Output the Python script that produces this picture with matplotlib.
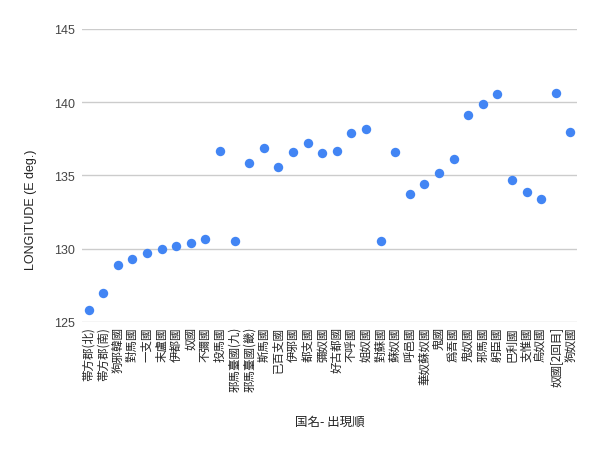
import matplotlib
matplotlib.use("Agg")
import matplotlib.pyplot as plt

# 国名 (出現順) と経度
countries = ["帯方郡(北)", "帯方郡(南)", "狗邪韓國", "對馬國", "一支國", "末盧國",
             "伊都國", "奴國", "不彌國", "投馬國", "邪馬臺國(九)", "邪馬臺國(畿)",
             "斯馬國", "已百支國", "伊邪國", "都支國", "彌奴國", "好古都國",
             "不呼國", "姐奴國", "對蘇國", "蘇奴國", "呼邑國", "華奴蘇奴國",
             "鬼國", "爲吾國", "鬼奴國", "邪馬國", "躬臣國", "巴利國",
             "支惟國", "烏奴國", "奴國[2回目]", "狗奴國"]
longitude = [125.84, 126.96, 128.9, 129.3, 129.7, 129.95,
             130.2, 130.4, 130.65, 136.7, 130.55, 135.85,
             136.9, 135.6, 136.6, 137.2, 136.55, 136.7,
             137.9, 138.2, 130.5, 136.57, 133.77, 134.45,
             135.16, 136.14, 139.1, 139.9, 140.57, 134.7,
             133.9, 133.4, 140.6, 137.95]
yticks = [125, 130, 135, 140, 145]

plt.rcParams['font.family'] = ['Liberation Sans', 'Noto Sans CJK JP', 'DejaVu Sans']

fig = plt.figure(figsize=(6.0, 4.52), dpi=100)
ax = fig.add_axes([82/600, 1-323/452, 495/600, 293/452])

xs = list(range(len(countries)))
ax.scatter(xs, longitude, s=46, color="#4285F4", zorder=3, linewidths=0)

ax.set_ylim(125, 145)
ax.set_xlim(-0.46, len(countries) - 1 + 0.46)
ax.set_yticks(yticks)
ax.set_yticklabels([str(v) for v in yticks], fontsize=9, color="#444444")
ax.set_xticks(xs)
ax.set_xticklabels(countries, rotation=90, fontsize=8.3, color="#222222",
                   family=['Noto Sans CJK JP', 'DejaVu Sans'])
ax.tick_params(axis='both', length=0)
ax.tick_params(axis='x', pad=3)
ax.tick_params(axis='y', pad=5)
ax.grid(axis='y', color="#cccccc", linewidth=1)
ax.set_axisbelow(True)
for sp in ax.spines.values():
    sp.set_visible(False)

ax.set_ylabel("LONGITUDE (E deg.)", fontsize=9, color="#222222")
ax.yaxis.set_label_coords(-0.091, 0.386)
fig.text((82+577)/2/600, 1-422/452, "国名- 出現順", ha='center', va='center',
         fontsize=9, color="#222222", family=['Noto Sans CJK JP', 'DejaVu Sans'])

fig.savefig("out.png", dpi=100, facecolor="white")
